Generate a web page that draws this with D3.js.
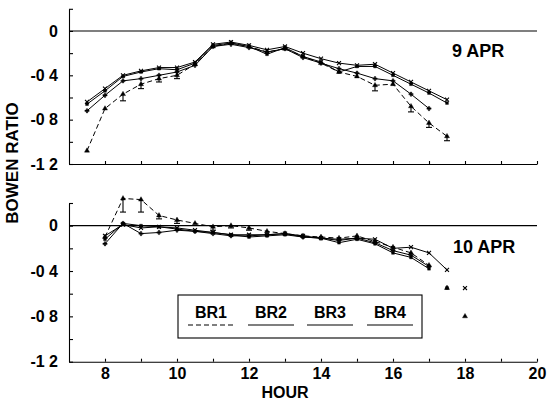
<!DOCTYPE html>
<html>
<head>
<meta charset="utf-8">
<script src="https://cdn.jsdelivr.net/npm/d3@7"></script>
<style>
  body { margin: 0; background: #fff; }
  text { font-family: "Liberation Sans", Arial, sans-serif; font-weight: bold; fill: #000; }
</style>
</head>
<body>
<div id="chart"></div>
<script>
// Chart size
var svgWidth = 551;
var svgHeight = 408;

// Half-hourly observation times
var hours9 = [7.5, 8, 8.5, 9, 9.5, 10, 10.5, 11, 11.5, 12, 12.5, 13, 13.5, 14, 14.5, 15, 15.5, 16, 16.5, 17, 17.5];
var hours10 = [8, 8.5, 9, 9.5, 10, 10.5, 11, 11.5, 12, 12.5, 13, 13.5, 14, 14.5, 15, 15.5, 16, 16.5, 17, 17.5, 18];

// 9 APR bowen ratios
var br1Apr9 = [-1.08, -0.70, -0.57, -0.48, -0.43, -0.40, -0.30, -0.14, -0.11, -0.14, -0.19, -0.16, -0.23, -0.29, -0.37, -0.41, -0.49, -0.48, -0.68, -0.83, -0.95];
var br2Apr9 = [-0.64, -0.52, -0.40, -0.36, -0.33, -0.33, -0.28, -0.12, -0.10, -0.13, -0.17, -0.14, -0.20, -0.25, -0.29, -0.31, -0.30, -0.38, -0.46, -0.54, -0.62];
var br3Apr9 = [-0.66, -0.54, -0.41, -0.37, -0.34, -0.35, -0.29, -0.13, -0.11, -0.14, -0.21, -0.15, -0.23, -0.28, -0.37, -0.32, -0.32, -0.40, -0.48, -0.56, -0.65];
var br4Apr9 = [-0.72, -0.58, -0.45, -0.43, -0.40, -0.37, -0.31, -0.14, -0.12, -0.15, -0.19, -0.16, -0.24, -0.29, -0.34, -0.38, -0.43, -0.45, -0.57, -0.70, null];
var br1ErrApr9 = [0, 0, 0.06, 0.04, 0.03, 0.03, 0, 0, 0, 0, 0, 0, 0, 0, 0, 0, 0.05, 0, 0.05, 0.04, 0.04];

// 10 APR bowen ratios
var br1Apr10 = [-0.10, 0.24, 0.23, 0.09, 0.05, 0.02, -0.01, 0.00, -0.02, -0.05, -0.07, -0.09, -0.10, -0.11, -0.09, -0.14, -0.19, -0.24, -0.35, -0.55, -0.80];
var br2Apr10 = [-0.09, 0.01, -0.02, -0.01, -0.02, -0.04, -0.06, -0.08, -0.08, -0.08, -0.07, -0.09, -0.11, -0.12, -0.11, -0.12, -0.20, -0.19, -0.24, -0.39, -0.55];
var br3Apr10 = [-0.12, 0.02, 0.00, -0.01, -0.03, -0.05, -0.06, -0.08, -0.10, -0.09, -0.08, -0.10, -0.11, -0.15, -0.12, -0.16, -0.24, -0.28, -0.38, -0.55, null];
var br4Apr10 = [-0.16, 0.02, -0.07, -0.06, -0.04, -0.05, -0.07, -0.09, -0.09, -0.08, -0.07, -0.10, -0.11, -0.13, -0.11, -0.15, -0.22, -0.26, -0.36, null, null];
var br1ErrApr10 = [0, 0.12, 0.11, 0.03, 0.03, 0, 0.03, 0.02, 0.02, 0, 0, 0, 0, 0, 0, 0, 0, 0, 0, 0, 0];

// Last hour joined by a line (later points are loose markers)
var lineEndApr9 = [17.5, 17.5, 17.5, 17];
var lineEndApr10 = [17, 17.5, 17, 17];

var seriesNames = ["BR1", "BR2", "BR3", "BR4"];
var yTicks = [0.2, 0, -0.2, -0.4, -0.6, -0.8, -1.0, -1.2];

// Line and marker styles for each series
var dashes = ["5,3", null, null, null];
var symbols = [d3.symbolTriangle, d3.symbolTimes, d3.symbolSquare, d3.symbolCross];
var symbolSizes = [11, 12, 8, 10];

var svg = d3.select("#chart")
    .append("svg")
    .attr("width", svgWidth)
    .attr("height", svgHeight);

// Shared hour scale
var xScale = d3.scaleLinear().domain([7, 20]).range([69, 537]);

// One y scale per panel
var yTop = d3.scaleLinear().domain([-1.2, 0.2]).range([164, 8.8]);
var yBottom = d3.scaleLinear().domain([-1.2, 0.2]).range([361.7, 203]);

function yLabel(v) {
    if (Math.abs(v * 10) % 4 > 0.01) return "";
    if (v === 0) return "0";
    return d3.format(".1f")(v).replace("\u2212", "-").replace(".", " ");
}

function drawPanel(yScale, hours, series, errs, lineEnds, showXLabels) {
    var g = svg.append("g");

    // zero line
    g.append("line")
        .attr("x1", xScale(7)).attr("x2", xScale(20))
        .attr("y1", yScale(0)).attr("y2", yScale(0))
        .attr("stroke", "#000").attr("stroke-width", 1.1);

    // x axis
    var xAxis = g.append("g")
        .attr("transform", `translate(0, ${yScale(-1.2)})`)
        .call(d3.axisBottom(xScale)
            .tickValues(d3.range(8, 21, 1))
            .tickSize(-3)
            .tickSizeOuter(0)
            .tickPadding(6)
            .tickFormat(d => (showXLabels && d % 2 === 0) ? d : ""));
    xAxis.selectAll("text").style("font-size", "16px");

    // y axis
    var yAxis = g.append("g")
        .attr("transform", `translate(${xScale(7)}, 0)`)
        .call(d3.axisLeft(yScale)
            .tickValues(yTicks)
            .tickSize(-4)
            .tickSizeOuter(0)
            .tickPadding(11)
            .tickFormat(yLabel));
    yAxis.selectAll("text").style("font-size", "16px");
    g.selectAll(".domain, .tick line").attr("stroke", "#000").attr("stroke-width", 1.1);

    series.forEach(function (vals, i) {
        var pts = hours.map((h, j) => ({ h: h, v: vals[j], e: i === 0 ? errs[j] : 0 }))
            .filter(d => d.v !== null);

        var line = d3.line()
            .x(d => xScale(d.h))
            .y(d => yScale(d.v));

        g.append("path")
            .datum(pts.filter(d => d.h <= lineEnds[i]))
            .attr("d", line)
            .attr("fill", "none")
            .attr("stroke", "#000")
            .attr("stroke-width", 1)
            .attr("stroke-dasharray", dashes[i]);

        // error bars on BR1
        var bars = g.selectAll(null)
            .data(pts.filter(d => d.e > 0))
            .enter()
            .append("g");
        bars.append("line")
            .attr("x1", d => xScale(d.h)).attr("x2", d => xScale(d.h))
            .attr("y1", d => yScale(d.v)).attr("y2", d => yScale(d.v - d.e))
            .attr("stroke", "#000").attr("stroke-width", 1.1);
        bars.append("line")
            .attr("x1", d => xScale(d.h) - 3).attr("x2", d => xScale(d.h) + 3)
            .attr("y1", d => yScale(d.v - d.e)).attr("y2", d => yScale(d.v - d.e))
            .attr("stroke", "#000").attr("stroke-width", 1.1);

        var sym = d3.symbol().type(symbols[i]).size(symbolSizes[i]);
        g.selectAll(null)
            .data(pts)
            .enter()
            .append("path")
            .attr("transform", d => `translate(${xScale(d.h)}, ${yScale(d.v)})`)
            .attr("d", sym)
            .attr("fill", i === 1 ? "none" : "#000")
            .attr("stroke", "#000")
            .attr("stroke-width", i === 1 ? 1.1 : 0.4);
    });

    return g;
}

drawPanel(yTop, hours9, [br1Apr9, br2Apr9, br3Apr9, br4Apr9], br1ErrApr9, lineEndApr9, false);
drawPanel(yBottom, hours10, [br1Apr10, br2Apr10, br3Apr10, br4Apr10], br1ErrApr10, lineEndApr10, true);

// Panel dates
svg.append("text")
    .attr("x", 452).attr("y", 57)
    .style("font-size", "18px")
    .text("9 APR");

svg.append("text")
    .attr("x", 453).attr("y", 253)
    .style("font-size", "18px")
    .text("10 APR");

// Axis titles
svg.append("text")
    .attr("x", 285).attr("y", 398)
    .attr("text-anchor", "middle")
    .style("font-size", "16px")
    .text("HOUR");

svg.append("text")
    .attr("transform", "translate(18, 163) rotate(-90)")
    .attr("text-anchor", "middle")
    .style("font-size", "17px")
    .text("BOWEN RATIO");

// Legend
var legend = svg.append("g");
legend.append("rect")
    .attr("x", 178).attr("y", 295)
    .attr("width", 244).attr("height", 43)
    .attr("fill", "none")
    .attr("stroke", "#000")
    .attr("stroke-width", 1.1);

var legendX = [211, 271, 330, 390];
seriesNames.forEach(function (name, i) {
    legend.append("text")
        .attr("x", legendX[i]).attr("y", 318)
        .attr("text-anchor", "middle")
        .style("font-size", "16px")
        .text(name);
    legend.append("line")
        .attr("x1", legendX[i] - 23).attr("x2", legendX[i] + 23)
        .attr("y1", 325).attr("y2", 325)
        .attr("stroke", "#000")
        .attr("stroke-width", 1.1)
        .attr("stroke-dasharray", dashes[i]);
});
</script>
</body>
</html>
